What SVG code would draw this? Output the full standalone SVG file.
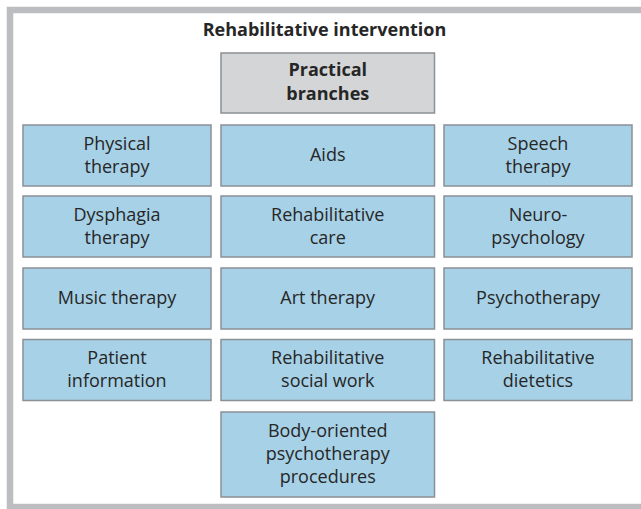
<svg xmlns="http://www.w3.org/2000/svg" width="641" height="509" viewBox="0 0 641 509">
<style>
.b{fill:#a6d1e6;stroke:#8b9095;stroke-width:1.5}
.g{fill:#d4d5d7;stroke:#8b9095;stroke-width:1.5}
text{font-family:"Open Sans","DejaVu Sans",sans-serif;font-size:18px;fill:#262626;text-anchor:middle}
.t{font-weight:bold;font-size:18px}
</style>
<rect x="0" y="0" width="641" height="509" fill="#ffffff"/>
<rect x="10" y="10" width="700" height="497" fill="none" stroke="#bcbdc0" stroke-width="6.5"/>
<text class="t" x="324.5" y="36">Rehabilitative intervention</text>
<g id="practical"><rect class="g" x="221" y="53" width="213.5" height="60"/><text class="t" x="327.75" y="76">Practical</text><text class="t" x="327.75" y="100">branches</text></g>
<g id="physical"><rect class="b" x="23" y="125" width="188" height="61"/><text x="117" y="149.5">Physical</text><text x="117" y="172.5">therapy</text></g>
<g id="aids"><rect class="b" x="221" y="125" width="213.5" height="61"/><text x="327.75" y="161">Aids</text></g>
<g id="speech"><rect class="b" x="444" y="125" width="188" height="61"/><text x="538" y="149.5">Speech</text><text x="538" y="172.5">therapy</text></g>
<g id="dysphagia"><rect class="b" x="23" y="196" width="188" height="61"/><text x="117" y="220.5">Dysphagia</text><text x="117" y="243.5">therapy</text></g>
<g id="rehabcare"><rect class="b" x="221" y="196" width="213.5" height="61"/><text x="327.75" y="220.5">Rehabilitative</text><text x="327.75" y="243.5">care</text></g>
<g id="neuro"><rect class="b" x="444" y="196" width="188" height="61"/><text x="538" y="220.5">Neuro-</text><text x="538" y="243.5">psychology</text></g>
<g id="music"><rect class="b" x="23" y="268" width="188" height="61"/><text x="117" y="303.5">Music therapy</text></g>
<g id="art"><rect class="b" x="221" y="268" width="213.5" height="61"/><text x="327.75" y="303.5">Art therapy</text></g>
<g id="psycho"><rect class="b" x="444" y="268" width="188" height="61"/><text x="538" y="303.5">Psychotherapy</text></g>
<g id="patient"><rect class="b" x="23" y="339.5" width="188" height="61"/><text x="117" y="364">Patient</text><text x="117" y="387">information</text></g>
<g id="social"><rect class="b" x="221" y="339.5" width="213.5" height="61"/><text x="327.75" y="364">Rehabilitative</text><text x="327.75" y="387">social work</text></g>
<g id="diet"><rect class="b" x="444" y="339.5" width="188" height="61"/><text x="538" y="364">Rehabilitative</text><text x="538" y="387">dietetics</text></g>
<g id="body"><rect class="b" x="221" y="412" width="213.5" height="85"/><text x="327.75" y="437">Body-oriented</text><text x="327.75" y="460">psychotherapy</text><text x="327.75" y="483">procedures</text></g>
<g id="connectors"></g>
</svg>
